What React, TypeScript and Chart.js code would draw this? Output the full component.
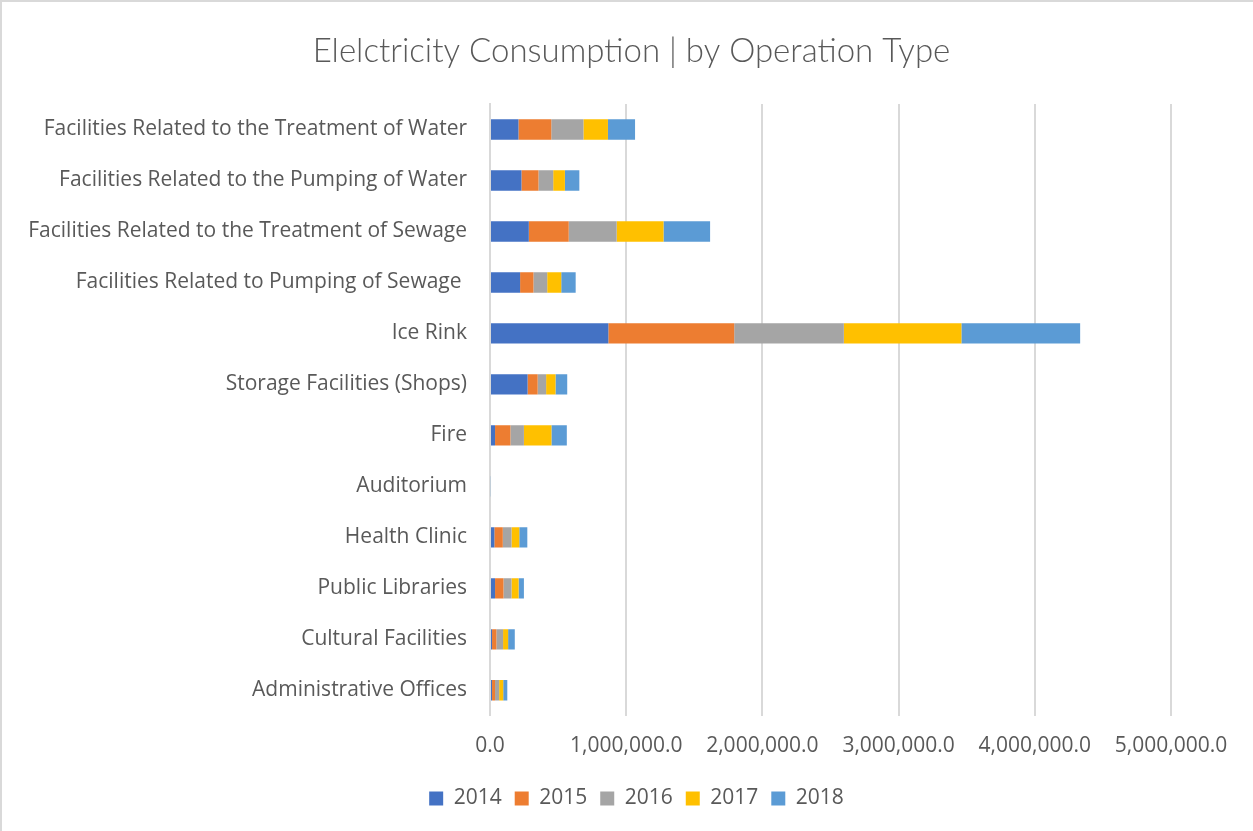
import React, { useEffect, useRef } from "react";
import { Chart, registerables } from "chart.js";

Chart.register(...registerables);

const categories = [
  "Facilities Related to the Treatment of Water",
  "Facilities Related to the Pumping of Water",
  "Facilities Related to the Treatment of Sewage",
  "Facilities Related to Pumping of Sewage ",
  "Ice Rink",
  "Storage Facilities (Shops)",
  "Fire",
  "Auditorium",
  "Health Clinic",
  "Public Libraries",
  "Cultural Facilities",
  "Administrative Offices",
];

const years = ["2014", "2015", "2016", "2017", "2018"];

const values2014 = [209000, 231000, 285000, 221000, 869000, 276000, 37000, 0, 32000, 37000, 15000, 15000];
const values2015 = [241000, 125000, 293000, 98000, 924000, 74000, 113000, 0, 62000, 62000, 32000, 22000];
const values2016 = [236000, 108000, 352000, 101000, 805000, 62000, 99000, 0, 64000, 59000, 49000, 30000];
const values2017 = [180000, 86000, 344000, 103000, 863000, 69000, 202000, 0, 57000, 52000, 37000, 30000];
const values2018 = [199000, 106000, 342000, 106000, 872000, 86000, 113000, 6000, 59000, 39000, 49000, 30000];

const seriesValues = [values2014, values2015, values2016, values2017, values2018];
const seriesColors = ["#4472C4", "#ED7D31", "#A5A5A5", "#FFC000", "#5B9BD5"];

const TITLE = "Elelctricity Consumption | by Operation Type";
const FONT = "'Open Sans', 'Noto Sans', sans-serif";
const TITLE_FONT = "Lato, 'Open Sans', sans-serif";

const titlePlugin = {
  id: "centeredTitle",
  afterDraw(chart: any) {
    const ctx = chart.ctx;
    ctx.save();
    ctx.fillStyle = "#595959";
    ctx.font = `300 33px ${TITLE_FONT}`;
    ctx.textAlign = "center";
    ctx.textBaseline = "middle";
    ctx.fillText(TITLE, chart.width / 2 + 4, 49);
    ctx.restore();
  },
};

export default function App() {
  const ref = useRef<HTMLCanvasElement | null>(null);

  useEffect(() => {
    document.body.style.margin = "0";
    const canvas = ref.current;
    if (!canvas) return;
    const chart = new Chart(canvas, {
      type: "bar",
      data: {
        labels: categories,
        datasets: years.map((y, i) => ({
          label: y,
          data: seriesValues[i],
          backgroundColor: seriesColors[i],
          borderWidth: 0,
          categoryPercentage: 0.4,
          barPercentage: 1.0,
        })),
      },
      options: {
        indexAxis: "y",
        responsive: false,
        animation: false,
        maintainAspectRatio: false,
        layout: { padding: { left: 18, right: 0, top: 102, bottom: 12 } },
        plugins: {
          title: { display: false },
          legend: {
            position: "bottom",
            labels: {
              color: "#595959",
              font: { family: FONT, size: 21 },
              boxWidth: 14,
              boxHeight: 14,
              padding: 13,
            },
          },
          tooltip: { enabled: false },
        },
        scales: {
          x: {
            stacked: true,
            min: 0,
            max: 5000000,
            ticks: {
              stepSize: 1000000,
              color: "#595959",
              font: { family: FONT, size: 21 },
              padding: 18,
              maxRotation: 0,
              callback: (v: any) =>
                Number(v).toLocaleString("en-US", { minimumFractionDigits: 1, maximumFractionDigits: 1 }),
            },
            grid: { color: "#d9d9d9", lineWidth: 2, drawTicks: false },
            border: { display: false },
            afterFit: (scale: any) => {
              scale.paddingRight = 82;
              scale.height -= 2;
            },
          },
          y: {
            stacked: true,
            ticks: {
              color: "#595959",
              font: { family: FONT, size: 21 },
              padding: 23,
              autoSkip: false,
            },
            grid: { display: false, drawTicks: false },
            border: { display: true, color: "#d9d9d9", width: 2 },
            afterFit: (scale: any) => {
              scale.width = 470;
            },
          },
        },
      },
      plugins: [titlePlugin],
    });
    return () => chart.destroy();
  }, []);

  return (
    <div
      style={{
        position: "absolute",
        left: 0,
        top: 0,
        width: 1253,
        height: 831,
        background: "#fff",
        boxSizing: "border-box",
        borderTop: "2px solid #d9d9d9",
        borderLeft: "2px solid #d9d9d9",
      }}
    >
      <canvas ref={ref} width={1251} height={829} style={{ display: "block" }} />
    </div>
  );
}
